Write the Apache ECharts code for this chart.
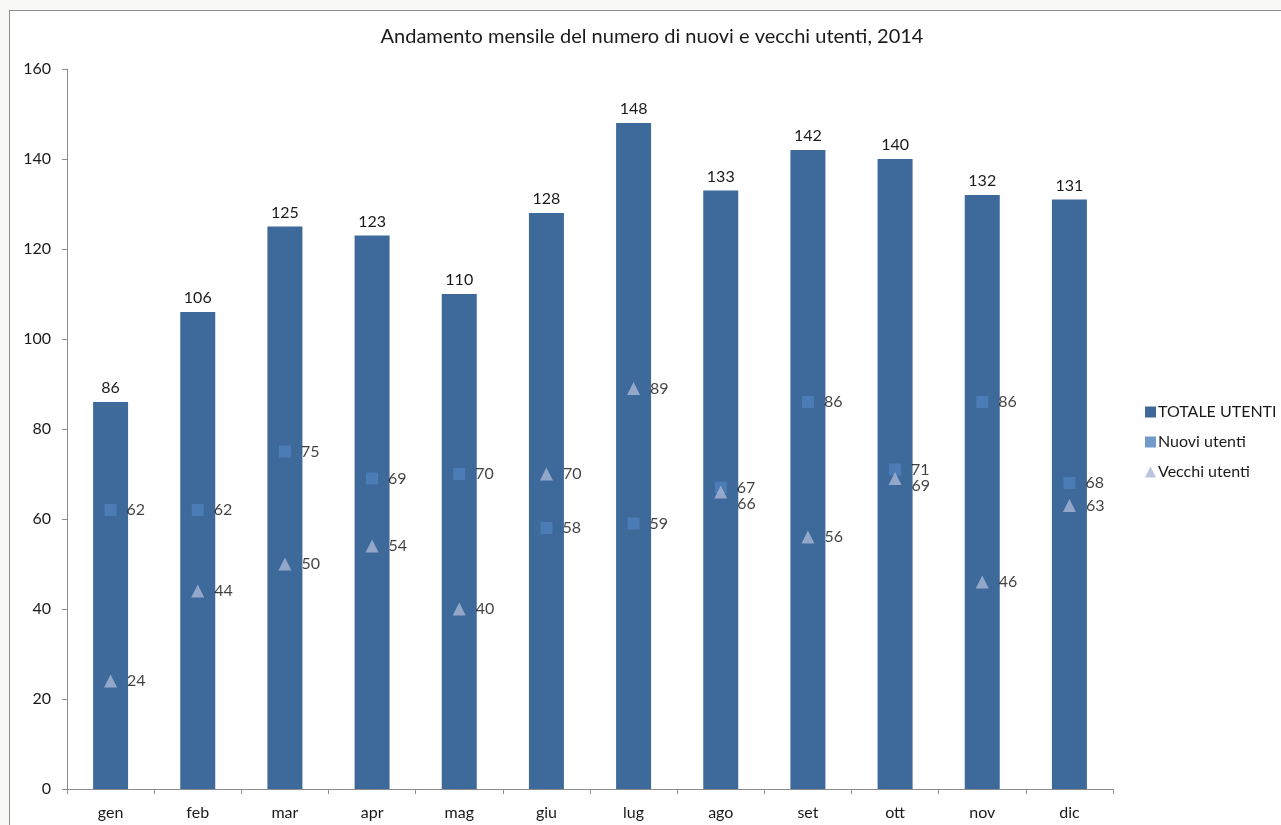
<!DOCTYPE html>
<html>
<head>
<meta charset="utf-8">
<script src="https://cdn.jsdelivr.net/npm/echarts@6/dist/echarts.min.js"></script>
<style>
  html, body { margin: 0; padding: 0; background: #f8f8f6; overflow: hidden; }
  #frame { position: absolute; left: 9px; top: 10px; width: 1400px; height: 900px;
           background: #ffffff; border: 1px solid #8c8c8c; box-sizing: border-box; }
  #chart { position: absolute; left: 0; top: 0; width: 1281px; height: 825px; }
</style>
</head>
<body>
<div id="frame"></div>
<div id="chart"></div>
<script>
const months = ['gen', 'feb', 'mar', 'apr', 'mag', 'giu', 'lug', 'ago', 'set', 'ott', 'nov', 'dic'];
const totaleUtenti = [86, 106, 125, 123, 110, 128, 148, 133, 142, 140, 132, 131];
const nuoviUtenti = [62, 62, 75, 69, 70, 58, 59, 67, 86, 71, 86, 68];
const vecchiUtenti = [24, 44, 50, 54, 40, 70, 89, 66, 56, 69, 46, 63];
const yTicks = [0, 20, 40, 60, 80, 100, 120, 140, 160];

const FONT = 'Lato, "DejaVu Sans", sans-serif';
const LABEL_LINE = 16; // minimum vertical spacing between the two point labels of a month
const chart = echarts.init(document.getElementById('chart'), null, { renderer: 'canvas' });

// Push the "Vecchi utenti" label down when it would collide with the "Nuovi utenti" one
function vecchiLabelLayout(p) {
  const i = p.dataIndex;
  const yN = chart.convertToPixel({ seriesIndex: 1 }, [i, nuoviUtenti[i]])[1];
  const yV = chart.convertToPixel({ seriesIndex: 2 }, [i, vecchiUtenti[i]])[1];
  const gap = yV - yN;
  if (gap >= 0 && gap < LABEL_LINE) {
    return { dy: LABEL_LINE - gap };
  }
  return {};
}

chart.setOption({
  backgroundColor: 'transparent',
  animation: false,
  textStyle: { fontFamily: FONT },
  title: {
    text: 'Andamento mensile del numero di nuovi e vecchi utenti, 2014',
    left: 647, top: 22, textAlign: 'center',
    textStyle: { fontFamily: FONT, fontSize: 20, fontWeight: 'normal', color: '#1a1a1a' }
  },
  legend: {
    orient: 'vertical', left: 1140, top: 399, itemGap: 14,
    itemWidth: 11, itemHeight: 11,
    textStyle: { fontFamily: FONT, fontSize: 16, color: '#1a1a1a', padding: [0, 0, 0, -3] },
    data: [
      { name: 'TOTALE UTENTI', icon: 'rect' },
      { name: 'Nuovi utenti', icon: 'rect' },
      { name: 'Vecchi utenti', icon: 'triangle' }
    ]
  },
  grid: { left: 67, top: 69, right: 168, bottom: 36 },
  xAxis: {
    type: 'category', data: months,
    axisLine: { lineStyle: { color: '#8c8c8c', width: 1 } },
    axisTick: { show: true, length: 5, lineStyle: { color: '#8c8c8c' } },
    axisLabel: { fontFamily: FONT, fontSize: 16, color: '#1a1a1a', margin: 16 }
  },
  yAxis: {
    type: 'value', min: yTicks[0], max: yTicks[yTicks.length - 1], interval: 20,
    axisLine: { show: true, lineStyle: { color: '#8c8c8c', width: 1 } },
    axisTick: { show: true, length: 5, lineStyle: { color: '#8c8c8c' } },
    splitLine: { show: false },
    axisLabel: { fontFamily: FONT, fontSize: 16, color: '#1a1a1a', margin: 16 }
  },
  series: [
    {
      name: 'TOTALE UTENTI', type: 'bar', data: totaleUtenti,
      barWidth: 35,
      itemStyle: { color: '#3e6a9b' },
      label: { show: true, position: 'top', distance: 6, fontFamily: FONT, fontSize: 16, color: '#1a1a1a' },
      z: 1
    },
    {
      name: 'Nuovi utenti', type: 'scatter', data: nuoviUtenti,
      symbol: 'rect', symbolSize: 12,
      itemStyle: { color: '#4f81bd' },
      label: { show: true, position: 'right', distance: 10, fontFamily: FONT, fontSize: 16, color: '#111' },
      z: 3
    },
    {
      name: 'Vecchi utenti', type: 'scatter', data: vecchiUtenti,
      symbol: 'triangle', symbolSize: 13,
      itemStyle: { color: '#a7b6d6' },
      label: { show: true, position: 'right', distance: 10, fontFamily: FONT, fontSize: 16, color: '#111' },
      labelLayout: vecchiLabelLayout,
      z: 4
    }
  ]
});
</script>
</body>
</html>
